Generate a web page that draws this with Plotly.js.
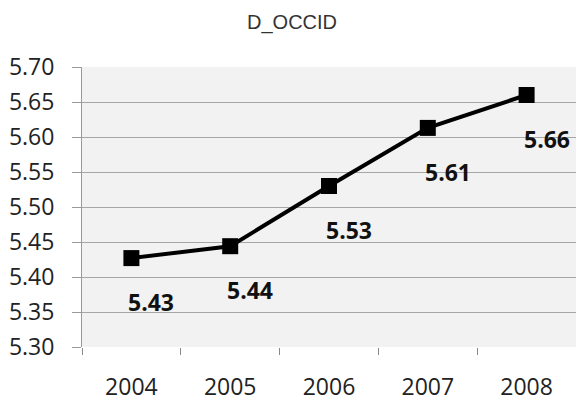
<!DOCTYPE html>
<html><head><meta charset="utf-8">
<script src="https://cdn.plot.ly/plotly-3.0.1.min.js"></script>
<style>body{margin:0;padding:0;background:#fff}#chart{width:576px;height:401px}</style>
</head><body><div id="chart"></div>
<script>
const years = ['2004','2005','2006','2007','2008'];
const values = [5.427, 5.444, 5.530, 5.613, 5.660];
const labels = ['5.43','5.44','5.53','5.61','5.66'];
const yTicks = [5.30,5.35,5.40,5.45,5.50,5.55,5.60,5.65,5.70];

const trace = {
  x: years, y: values, type: 'scatter', mode: 'lines+markers',
  line: {color: '#000', width: 4},
  marker: {symbol: 'square', size: 16, color: '#000'},
  hoverinfo: 'skip'
};
const annotations = years.map((yr, i) => ({
  x: i, y: values[i], xref: 'x', yref: 'y', text: '<b>' + labels[i] + '</b>', showarrow: false,
  xshift: 20, yshift: -44,
  font: {family: 'Open Sans, sans-serif', size: 23, color: '#111'}
}));
const layout = {
  width: 576, height: 401,
  margin: {l: 82, r: 0, t: 67, b: 54},
  paper_bgcolor: '#fff', plot_bgcolor: '#f2f2f2',
  showlegend: false,
  title: {text: 'D_OCCID', x: 0.507, xanchor: 'center', y: 0.945, yanchor: 'middle',
    font: {family: 'Liberation Sans, Arial, sans-serif', size: 20, color: '#333'}},
  xaxis: {type: 'category', range: [-0.5, 4.5], tickson: 'boundaries', ticks: 'outside',
    ticklen: 7, tickcolor: '#888', showgrid: false, showline: false, zeroline: false,
    ticklabelstandoff: 24,
    tickfont: {family: 'Open Sans, sans-serif', size: 23, color: '#222'}, fixedrange: true},
  yaxis: {range: [5.30, 5.70], tickvals: yTicks, ticktext: yTicks.map(v => v.toFixed(2)),
    ticks: 'outside', ticklen: 9, tickcolor: '#999', showline: true, linecolor: '#999', linewidth: 1,
    gridcolor: '#a6a6a6', gridwidth: 1, zeroline: false, ticklabelstandoff: 13,
    tickfont: {family: 'Open Sans, sans-serif', size: 23, color: '#222'}, fixedrange: true},
  annotations: annotations
};
Plotly.newPlot('chart', [trace], layout, {displayModeBar: false, staticPlot: true});
</script></body></html>
